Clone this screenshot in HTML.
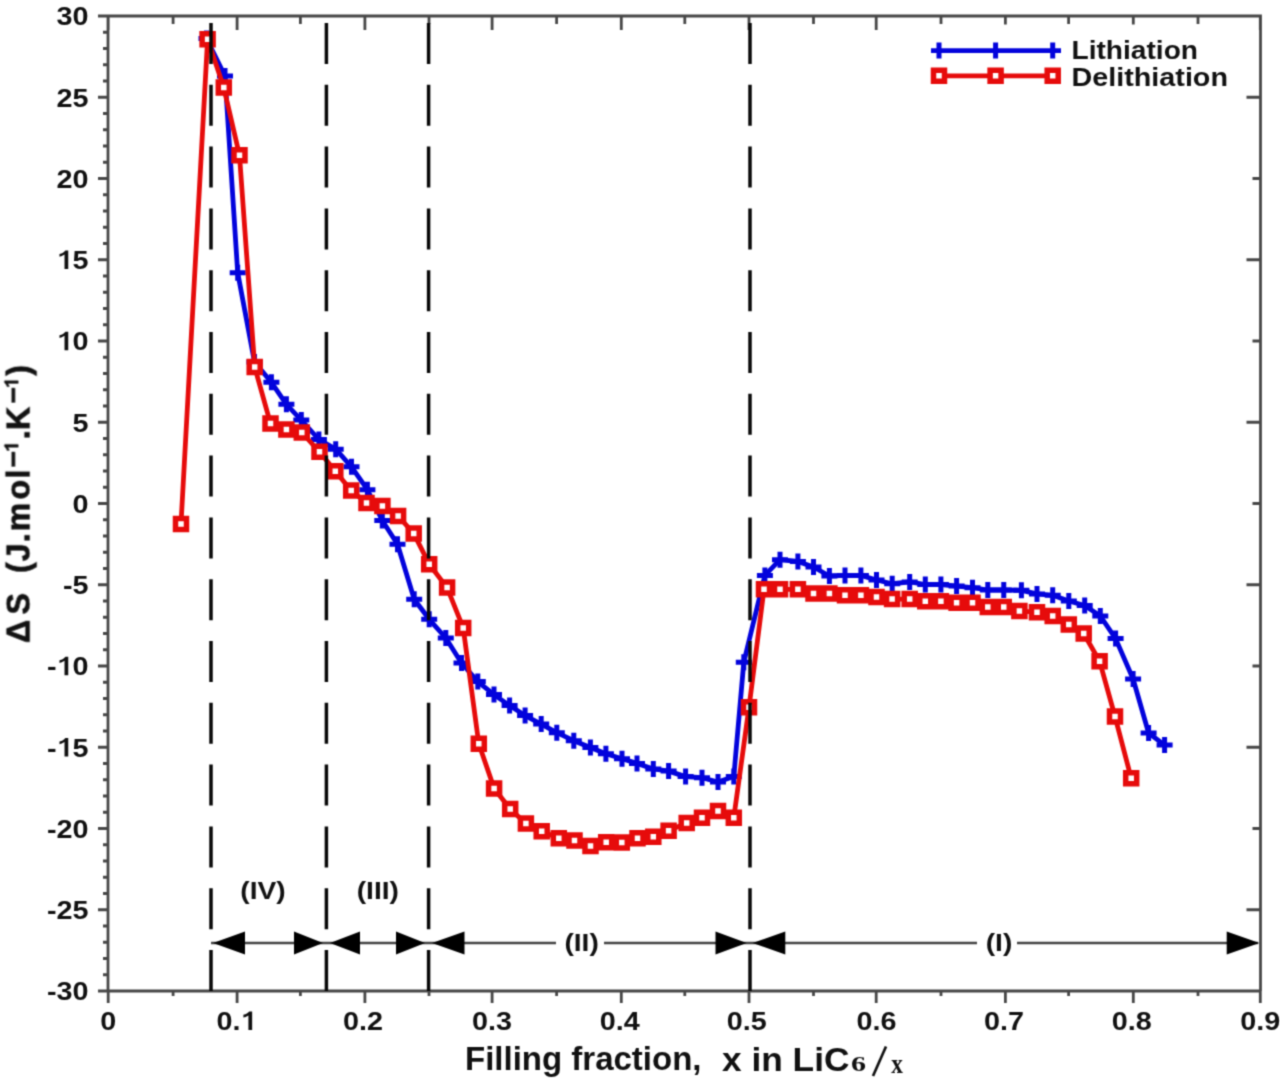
<!DOCTYPE html><html><head><meta charset="utf-8"><style>
html,body{margin:0;padding:0;background:#fff;overflow:hidden;width:1280px;height:1079px}
svg{display:block}
text{font-family:"Liberation Sans",sans-serif;font-weight:bold;fill:#111111}
</style></head><body>
<svg width="1280" height="1079" viewBox="0 0 1280 1079">
<defs><filter id="bl" color-interpolation-filters="sRGB" x="0" y="0" width="1280" height="1079" filterUnits="userSpaceOnUse"><feConvolveMatrix order="3" kernelMatrix="0.0361 0.1178 0.0361 0.1178 0.3846 0.1178 0.0361 0.1178 0.0361" divisor="1" edgeMode="duplicate"/></filter></defs>
<g filter="url(#bl)">
<rect width="1280" height="1079" fill="#fff"/>
<path d="M98,16H1260.5V991M108,16V991H1260.5M98,991.00H108M103,974.75H108M103,958.50H108M103,942.25H108M103,926.00H108M98,909.75H108M103,893.50H108M103,877.25H108M103,861.00H108M103,844.75H108M98,828.50H108M103,812.25H108M103,796.00H108M103,779.75H108M103,763.50H108M98,747.25H108M103,731.00H108M103,714.75H108M103,698.50H108M103,682.25H108M98,666.00H108M103,649.75H108M103,633.50H108M103,617.25H108M103,601.00H108M98,584.75H108M103,568.50H108M103,552.25H108M103,536.00H108M103,519.75H108M98,503.50H108M103,487.25H108M103,471.00H108M103,454.75H108M103,438.50H108M98,422.25H108M103,406.00H108M103,389.75H108M103,373.50H108M103,357.25H108M98,341.00H108M103,324.75H108M103,308.50H108M103,292.25H108M103,276.00H108M98,259.75H108M103,243.50H108M103,227.25H108M103,211.00H108M103,194.75H108M98,178.50H108M103,162.25H108M103,146.00H108M103,129.75H108M103,113.50H108M98,97.25H108M103,81.00H108M103,64.75H108M103,48.50H108M103,32.25H108M98,16.00H108M1246.5,909.75H1260.5M1252.5,828.50H1260.5M1246.5,747.25H1260.5M1252.5,666.00H1260.5M1246.5,584.75H1260.5M1252.5,503.50H1260.5M1246.5,422.25H1260.5M1252.5,341.00H1260.5M1246.5,259.75H1260.5M1252.5,178.50H1260.5M1246.5,97.25H1260.5M108.20,991V1003M108.20,16V30M173.10,991V996M173.10,16V24M237.10,991V1003M237.10,16V30M300.40,991V996M300.40,16V24M364.90,991V1003M364.90,16V30M429.00,991V996M429.00,16V24M492.10,991V1003M492.10,16V30M556.60,991V996M556.60,16V24M621.30,991V1003M621.30,16V30M684.80,991V996M684.80,16V24M749.00,991V1003M749.00,16V30M813.50,991V996M813.50,16V24M876.20,991V1003M876.20,16V30M941.00,991V996M941.00,16V24M1005.40,991V1003M1005.40,16V30M1068.60,991V996M1068.60,16V24M1133.30,991V1003M1133.30,16V30M1198.00,991V996M1198.00,16V24M1260.30,991V1003M1260.30,16V30" stroke="#474747" stroke-width="2.8" fill="none"/>
<rect x="905" y="24.5" width="340" height="70" fill="#fff"/>
<text x="0" y="0" font-size="26.4" text-anchor="end" transform="translate(88.60,1000.30) scale(1.09,1)">-30</text>
<text x="0" y="0" font-size="26.4" text-anchor="end" transform="translate(88.60,919.05) scale(1.09,1)">-25</text>
<text x="0" y="0" font-size="26.4" text-anchor="end" transform="translate(88.60,837.80) scale(1.09,1)">-20</text>
<text x="0" y="0" font-size="26.4" text-anchor="end" transform="translate(88.60,756.55) scale(1.09,1)">- 5</text>
<path d="M64.51,756.55L68.26,756.55L68.26,738.07L65.38,738.07L63.94,739.52L62.07,740.71L59.48,741.50L59.48,744.27L61.78,743.61L64.51,742.03Z" fill="#111111"/>
<text x="0" y="0" font-size="26.4" text-anchor="end" transform="translate(88.60,675.30) scale(1.09,1)">- 0</text>
<path d="M64.51,675.30L68.26,675.30L68.26,656.82L65.38,656.82L63.94,658.27L62.07,659.46L59.48,660.25L59.48,663.02L61.78,662.36L64.51,660.78Z" fill="#111111"/>
<text x="0" y="0" font-size="26.4" text-anchor="end" transform="translate(88.60,594.05) scale(1.09,1)">-5</text>
<text x="0" y="0" font-size="26.4" text-anchor="end" transform="translate(88.60,512.80) scale(1.09,1)">0</text>
<text x="0" y="0" font-size="26.4" text-anchor="end" transform="translate(88.60,431.55) scale(1.09,1)">5</text>
<text x="0" y="0" font-size="26.4" text-anchor="end" transform="translate(88.60,350.30) scale(1.09,1)"> 0</text>
<path d="M64.51,350.30L68.26,350.30L68.26,331.82L65.38,331.82L63.94,333.27L62.07,334.46L59.48,335.25L59.48,338.02L61.78,337.36L64.51,335.78Z" fill="#111111"/>
<text x="0" y="0" font-size="26.4" text-anchor="end" transform="translate(88.60,269.05) scale(1.09,1)"> 5</text>
<path d="M64.51,269.05L68.26,269.05L68.26,250.57L65.38,250.57L63.94,252.02L62.07,253.21L59.48,254.00L59.48,256.77L61.78,256.11L64.51,254.53Z" fill="#111111"/>
<text x="0" y="0" font-size="26.4" text-anchor="end" transform="translate(88.60,187.80) scale(1.09,1)">20</text>
<text x="0" y="0" font-size="26.4" text-anchor="end" transform="translate(88.60,106.55) scale(1.09,1)">25</text>
<text x="0" y="0" font-size="26.4" text-anchor="end" transform="translate(88.60,25.30) scale(1.09,1)">30</text>
<text x="0" y="0" font-size="26.4" text-anchor="middle" transform="translate(108.20,1029.90) scale(1.09,1)">0</text>
<text x="0" y="0" font-size="26.4" text-anchor="middle" transform="translate(236.50,1029.90) scale(1.09,1)">0. </text>
<path d="M248.41,1029.90L252.15,1029.90L252.15,1011.42L249.28,1011.42L247.84,1012.87L245.97,1014.06L243.38,1014.85L243.38,1017.62L245.68,1016.96L248.41,1015.38Z" fill="#111111"/>
<text x="0" y="0" font-size="26.4" text-anchor="middle" transform="translate(363.10,1029.90) scale(1.09,1)">0.2</text>
<text x="0" y="0" font-size="26.4" text-anchor="middle" transform="translate(492.00,1029.90) scale(1.09,1)">0.3</text>
<text x="0" y="0" font-size="26.4" text-anchor="middle" transform="translate(619.80,1029.90) scale(1.09,1)">0.4</text>
<text x="0" y="0" font-size="26.4" text-anchor="middle" transform="translate(746.80,1029.90) scale(1.09,1)">0.5</text>
<text x="0" y="0" font-size="26.4" text-anchor="middle" transform="translate(876.40,1029.90) scale(1.09,1)">0.6</text>
<text x="0" y="0" font-size="26.4" text-anchor="middle" transform="translate(1004.00,1029.90) scale(1.09,1)">0.7</text>
<text x="0" y="0" font-size="26.4" text-anchor="middle" transform="translate(1131.80,1029.90) scale(1.09,1)">0.8</text>
<text x="0" y="0" font-size="26.4" text-anchor="middle" transform="translate(1260.30,1029.90) scale(1.09,1)">0.9</text>
<polyline points="206.5,38.5 225,76 237.7,272.8 254.5,362 271.4,382.3 286.4,404.3 301.3,420.1 318.9,439.5 335.7,449.2 351.5,466.8 367.4,489.7 382.3,520.5 397.5,544.2 414.2,599.3 429.2,619.3 445.8,638 461.5,663 477.8,681.6 494,694.6 509.6,705.6 525.1,715.6 541.2,724.1 556.8,732.7 573.8,740.7 590.4,747.5 605.9,753.7 622,758.7 637,763.4 653.3,768.9 668.6,771.1 685.6,776.6 702,777.7 718,782 733.8,776.6 743.8,662.3 764.9,575.4 780,559.7 797.9,561.5 813.5,567 829.4,576 845,575.4 860.9,575.4 876.5,580 892.2,583.75 909.7,581.9 925.3,584.5 940.9,584.5 956.6,586.1 972.5,587.7 987.8,590 1003.75,590 1021.4,590.3 1037,593.9 1052.7,595.3 1068.8,601 1084.7,605.5 1100.3,616 1115.6,638.6 1133.1,679 1148.6,733 1164.6,745.1" fill="none" stroke="#0303dc" stroke-width="4.8" stroke-linejoin="round"/>
<path d="M198.5,38.5h16M206.5,30.5v16M217,76h16M225,68v16M229.7,272.8h16M237.7,264.8v16M246.5,362h16M254.5,354v16M263.4,382.3h16M271.4,374.3v16M278.4,404.3h16M286.4,396.3v16M293.3,420.1h16M301.3,412.1v16M310.9,439.5h16M318.9,431.5v16M327.7,449.2h16M335.7,441.2v16M343.5,466.8h16M351.5,458.8v16M359.4,489.7h16M367.4,481.7v16M374.3,520.5h16M382.3,512.5v16M389.5,544.2h16M397.5,536.2v16M406.2,599.3h16M414.2,591.3v16M421.2,619.3h16M429.2,611.3v16M437.8,638h16M445.8,630v16M453.5,663h16M461.5,655v16M469.8,681.6h16M477.8,673.6v16M486,694.6h16M494,686.6v16M501.6,705.6h16M509.6,697.6v16M517.1,715.6h16M525.1,707.6v16M533.2,724.1h16M541.2,716.1v16M548.8,732.7h16M556.8,724.7v16M565.8,740.7h16M573.8,732.7v16M582.4,747.5h16M590.4,739.5v16M597.9,753.7h16M605.9,745.7v16M614,758.7h16M622,750.7v16M629,763.4h16M637,755.4v16M645.3,768.9h16M653.3,760.9v16M660.6,771.1h16M668.6,763.1v16M677.6,776.6h16M685.6,768.6v16M694,777.7h16M702,769.7v16M710,782h16M718,774v16M725.8,776.6h16M733.8,768.6v16M735.8,662.3h16M743.8,654.3v16M756.9,575.4h16M764.9,567.4v16M772,559.7h16M780,551.7v16M789.9,561.5h16M797.9,553.5v16M805.5,567h16M813.5,559v16M821.4,576h16M829.4,568v16M837,575.4h16M845,567.4v16M852.9,575.4h16M860.9,567.4v16M868.5,580h16M876.5,572v16M884.2,583.75h16M892.2,575.75v16M901.7,581.9h16M909.7,573.9v16M917.3,584.5h16M925.3,576.5v16M932.9,584.5h16M940.9,576.5v16M948.6,586.1h16M956.6,578.1v16M964.5,587.7h16M972.5,579.7v16M979.8,590h16M987.8,582v16M995.75,590h16M1003.75,582v16M1013.4,590.3h16M1021.4,582.3v16M1029,593.9h16M1037,585.9v16M1044.7,595.3h16M1052.7,587.3v16M1060.8,601h16M1068.8,593v16M1076.7,605.5h16M1084.7,597.5v16M1092.3,616h16M1100.3,608v16M1107.6,638.6h16M1115.6,630.6v16M1125.1,679h16M1133.1,671v16M1140.6,733h16M1148.6,725v16M1156.6,745.1h16M1164.6,737.1v16" stroke="#0303dc" stroke-width="5" fill="none"/>
<polyline points="181,524 207.6,39.2 223.8,87.6 239.5,155.3 254.7,367 270.5,423.6 286.4,429.5 301.8,432.5 319.5,451.8 335.3,471.2 351.2,490.6 366.5,502.9 382.4,505.9 398.1,516 413.7,533.4 429.2,564.2 447.1,587.6 463.2,627.9 478.8,743.7 494.1,788.4 510.2,808.9 525.9,823.6 541.7,831.3 558.8,838.3 574.5,840.4 590.5,846.1 606.2,842.2 621.8,842.6 637.5,838.3 653.3,836.7 668.6,830.8 686.7,822.9 702,817.7 718,811.1 733.8,817.7 749,707.3 764,589.3 780,589.3 797.9,589.3 813.5,593.6 829.4,593.6 845,595.3 860.9,595.3 876.5,597.1 892.1,599.1 909.7,599.1 925.3,601.3 940.9,601.3 956.6,602.8 972.5,602.8 987.8,606.9 1003.75,606.9 1019.4,611.1 1037,612.2 1052.7,616 1068.8,624.4 1083.7,633.5 1099.6,661.2 1115,716.5 1131.2,778.3" fill="none" stroke="#e60b0b" stroke-width="4.8" stroke-linejoin="round"/>
<path d="M175.5,518.5h11v11h-11zM202.1,33.7h11v11h-11zM218.3,82.1h11v11h-11zM234.0,149.8h11v11h-11zM249.2,361.5h11v11h-11zM265.0,418.1h11v11h-11zM280.9,424.0h11v11h-11zM296.3,427.0h11v11h-11zM314.0,446.3h11v11h-11zM329.8,465.7h11v11h-11zM345.7,485.1h11v11h-11zM361.0,497.4h11v11h-11zM376.9,500.4h11v11h-11zM392.6,510.5h11v11h-11zM408.2,527.9h11v11h-11zM423.7,558.7h11v11h-11zM441.6,582.1h11v11h-11zM457.7,622.4h11v11h-11zM473.3,738.2h11v11h-11zM488.6,782.9h11v11h-11zM504.7,803.4h11v11h-11zM520.4,818.1h11v11h-11zM536.2,825.8h11v11h-11zM553.3,832.8h11v11h-11zM569.0,834.9h11v11h-11zM585.0,840.6h11v11h-11zM600.7,836.7h11v11h-11zM616.3,837.1h11v11h-11zM632.0,832.8h11v11h-11zM647.8,831.2h11v11h-11zM663.1,825.3h11v11h-11zM681.2,817.4h11v11h-11zM696.5,812.2h11v11h-11zM712.5,805.6h11v11h-11zM728.3,812.2h11v11h-11zM743.5,701.8h11v11h-11zM758.5,583.8h11v11h-11zM774.5,583.8h11v11h-11zM792.4,583.8h11v11h-11zM808.0,588.1h11v11h-11zM823.9,588.1h11v11h-11zM839.5,589.8h11v11h-11zM855.4,589.8h11v11h-11zM871.0,591.6h11v11h-11zM886.6,593.6h11v11h-11zM904.2,593.6h11v11h-11zM919.8,595.8h11v11h-11zM935.4,595.8h11v11h-11zM951.1,597.3h11v11h-11zM967.0,597.3h11v11h-11zM982.3,601.4h11v11h-11zM998.25,601.4h11v11h-11zM1013.9,605.6h11v11h-11zM1031.5,606.7h11v11h-11zM1047.2,610.5h11v11h-11zM1063.3,618.9h11v11h-11zM1078.2,628.0h11v11h-11zM1094.1,655.7h11v11h-11zM1109.5,711.0h11v11h-11zM1125.7,772.8h11v11h-11z" stroke="#e60b0b" stroke-width="5.5" fill="#fff"/>
<path d="M211,23V991M326.4,23V991M428.6,23V991M750,23V991" stroke="#080808" stroke-width="3.5" stroke-dasharray="41 20.8" fill="none"/>
<path d="M211,943H556M604,943H977M1017,943H1258" stroke="#444" stroke-width="2.6" fill="none"/>
<path d="M213,943L245,931.5L245,954.5ZM323,943L294,931.5L294,954.5ZM330,943L360,931.5L360,954.5ZM425,943L396,931.5L396,954.5ZM432,943L464.5,931.5L464.5,954.5ZM746.7,943L715.5,931.5L715.5,954.5ZM752.6,943L785.3,931.5L785.3,954.5ZM1259.4,943L1226.7,931.5L1226.7,954.5Z" fill="#000"/>
<text x="0" y="0" font-size="24.3" text-anchor="middle" fill="#222" transform="translate(263,899) scale(1.16,1)">(IV)</text>
<text x="0" y="0" font-size="24.3" text-anchor="middle" fill="#222" transform="translate(377.8,899) scale(1.16,1)">(III)</text>
<text x="0" y="0" font-size="24.3" text-anchor="middle" fill="#222" transform="translate(581.6,951) scale(1.16,1)">(II)</text>
<text x="0" y="0" font-size="24.3" text-anchor="middle" fill="#222" transform="translate(999,951) scale(1.16,1)">(I)</text>
<path d="M931,50.6H1061" stroke="#0303dc" stroke-width="4.8"/>
<path d="M939,42.6v16M995.6,42.6v16M1052.7,42.6v16" stroke="#0303dc" stroke-width="5"/>
<path d="M932,75.8H1060" stroke="#e60b0b" stroke-width="4.8"/>
<path d="M933.5,70.3h11v11h-11zM990.1,70.3h11v11h-11zM1047.2,70.3h11v11h-11z" stroke="#e60b0b" stroke-width="5.5" fill="#fff"/>
<text x="1071.5" y="58.8" font-size="25.5" textLength="126.5" lengthAdjust="spacingAndGlyphs">Lithiation</text>
<text x="1071.5" y="86.2" font-size="25.5" textLength="156.5" lengthAdjust="spacingAndGlyphs">Delithiation</text>
<text x="465" y="1070" font-size="32.5" textLength="236.5" lengthAdjust="spacingAndGlyphs">Filling fraction,</text>
<text x="722" y="1071" font-size="33" textLength="127.5" lengthAdjust="spacingAndGlyphs">x in LiC</text>
<text x="851" y="1070.5" font-size="20" style="font-family:'Liberation Serif',serif" textLength="15" lengthAdjust="spacingAndGlyphs">6</text>
<path d="M873,1076L886,1046.5" stroke="#111" stroke-width="2.7"/>
<text x="891.3" y="1072.9" font-size="28" style="font-family:'Liberation Serif',serif" textLength="11.6" lengthAdjust="spacingAndGlyphs">x</text>
<g transform="translate(29.8,642.7) rotate(-90) scale(1,1.04)" stroke="#111111" stroke-width="0.7">
<text x="11.35" y="0" font-size="32" text-anchor="middle">Δ</text>
<text x="38.81" y="0" font-size="32" text-anchor="middle">S</text>
<text x="74.97" y="0" font-size="32" text-anchor="middle">(</text>
<text x="90.30" y="0" font-size="32" text-anchor="middle">J</text>
<text x="105.00" y="0" font-size="32" text-anchor="middle">.</text>
<text x="125.65" y="0" font-size="32" text-anchor="middle">m</text>
<text x="153.15" y="0" font-size="32" text-anchor="middle">o</text>
<text x="168.70" y="0" font-size="32" text-anchor="middle">l</text>
<text x="207.85" y="0" font-size="32" text-anchor="middle">.</text>
<text x="224.32" y="0" font-size="32" text-anchor="middle">K</text>
<text x="272.38" y="0" font-size="32" text-anchor="middle">)</text>
<path d="M195.67,-11.30L198.08,-11.30L198.08,-24.25L196.23,-24.25L195.30,-23.23L194.10,-22.40L192.43,-21.84L192.43,-19.90L193.91,-20.37L195.67,-21.48ZM259.47,-11.30L261.88,-11.30L261.88,-24.25L260.03,-24.25L259.10,-23.23L257.90,-22.40L256.23,-21.84L256.23,-19.90L257.71,-20.37L259.47,-21.48Z" fill="#111111"/>
<rect x="176.6" y="-17.3" width="14.0" height="2.8" fill="#111111"/>
<rect x="240.5" y="-17.3" width="13.9" height="2.8" fill="#111111"/>
</g>
</g>
</svg></body></html>
